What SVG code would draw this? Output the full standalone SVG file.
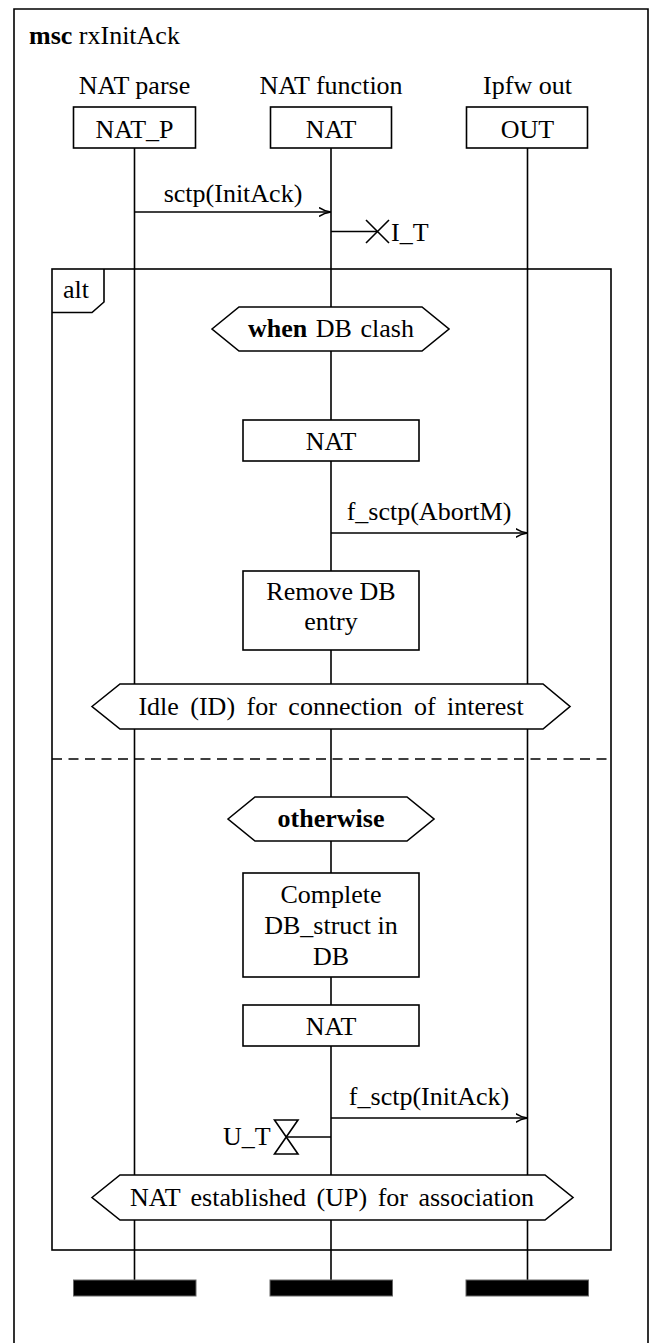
<svg xmlns="http://www.w3.org/2000/svg" width="650" height="1343" viewBox="0 0 650 1343">
  <style>
    text { font-family: "Liberation Serif", "Times New Roman", serif; font-size: 26px; fill: #000; }
    .c { text-anchor: middle; }
    .b { font-weight: bold; }
    .ln { fill: none; stroke: #000; stroke-width: 1.6; }
    .box { fill: #fff; stroke: #000; stroke-width: 1.6; }
    .bar { fill: #000; stroke: #666; stroke-width: 1; }
  </style>
  <defs>
    <marker id="arr" viewBox="0 0 12 10" refX="12" refY="5" markerWidth="12" markerHeight="10" markerUnits="userSpaceOnUse" orient="auto">
      <path d="M0,0.5 Q5,4 12,5 Q5,6 0,9.5" fill="none" stroke="#000" stroke-width="1.5"/>
    </marker>
  </defs>
  <rect width="650" height="1343" fill="#fff"/>

  <!-- frame -->
  <g id="frame">
    <path class="ln" d="M14,1345 V9 H648 V1345"/>
    <text x="29" y="44"><tspan class="b">msc</tspan> rxInitAck</text>
  </g>

  <!-- lifelines -->
  <g id="lifelines">
    <line class="ln" x1="134.5" y1="148" x2="134.5" y2="1281"/>
    <line class="ln" x1="331" y1="148" x2="331" y2="1281"/>
    <line class="ln" x1="527.5" y1="148" x2="527.5" y2="1281"/>
  </g>

  <!-- instance heads -->
  <g id="inst-natp">
    <text class="c" x="134.5" y="94">NAT parse</text>
    <rect class="box" x="73.5" y="107" width="122" height="41"/>
    <text class="c" x="134.5" y="138">NAT_P</text>
    <rect class="bar" x="73.5" y="1280" width="122.5" height="16"/>
  </g>
  <g id="inst-nat">
    <text class="c" x="331" y="94">NAT function</text>
    <rect class="box" x="270.5" y="107" width="121" height="41"/>
    <text class="c" x="331" y="138">NAT</text>
    <rect class="bar" x="270" y="1280" width="122.5" height="16"/>
  </g>
  <g id="inst-out">
    <text class="c" x="527.5" y="94">Ipfw out</text>
    <rect class="box" x="466.5" y="107" width="121" height="41"/>
    <text class="c" x="527.5" y="138">OUT</text>
    <rect class="bar" x="466" y="1280" width="122.5" height="16"/>
  </g>

  <!-- alt inline expression -->
  <g id="alt">
    <rect class="ln" x="52" y="269" width="559" height="981"/>
    <path class="ln" d="M52,312.5 H92 L104,302 V269"/>
    <text x="63" y="298">alt</text>
    <line class="ln" x1="52" y1="759" x2="611" y2="759" stroke-dasharray="10,6.5"/>
  </g>

  <!-- condition: when DB clash -->
  <g id="cond-clash">
    <polygon class="box" points="212,329 239,307 422,307 449,329 422,351 239,351"/>
    <text class="c" x="331" y="337" word-spacing="2"><tspan class="b">when</tspan> DB clash</text>
  </g>

  <g id="act-nat1">
    <rect class="box" x="243" y="420" width="176" height="41"/>
    <text class="c" x="331" y="450">NAT</text>
  </g>

  <g id="act-remove">
    <rect class="box" x="243" y="571" width="176" height="79"/>
    <text class="c" x="331" y="600">Remove DB</text>
    <text class="c" x="331" y="630">entry</text>
  </g>

  <g id="cond-idle">
    <polygon class="box" points="92,706.5 120,684 543,684 570,706.5 543,729 120,729"/>
    <text class="c" x="331" y="715" word-spacing="5">Idle (ID) for connection of interest</text>
  </g>

  <g id="cond-otherwise">
    <polygon class="box" points="228,819 255,797 407,797 434,819 407,841 255,841"/>
    <text class="c b" x="331" y="827">otherwise</text>
  </g>

  <g id="act-complete">
    <rect class="box" x="243" y="873" width="176" height="104"/>
    <text class="c" x="331" y="903">Complete</text>
    <text class="c" x="331" y="934">DB_struct in</text>
    <text class="c" x="331" y="965">DB</text>
  </g>

  <g id="act-nat2">
    <rect class="box" x="243" y="1005" width="176" height="41"/>
    <text class="c" x="331" y="1035">NAT</text>
  </g>

  <g id="cond-up">
    <polygon class="box" points="92,1197.5 120,1175 545,1175 573,1197.5 545,1220 120,1220"/>
    <text class="c" x="332" y="1206" word-spacing="4">NAT established (UP) for association</text>
  </g>

  <!-- timers -->
  <g id="timer-it">
    <line class="ln" x1="331" y1="231.5" x2="377" y2="231.5"/>
    <path class="ln" d="M366,220 L389,243 M366,243 L389,220"/>
    <text x="391" y="241">I_T</text>
  </g>
  <g id="timer-ut">
    <line class="ln" x1="286" y1="1137" x2="331" y2="1137"/>
    <path class="ln" d="M274.5,1120 H298 L274.5,1154 H298 Z"/>
    <text x="223" y="1145">U_T</text>
  </g>

  <!-- messages -->
  <g id="connectors">
    <line class="ln" x1="134.5" y1="212" x2="331" y2="212" marker-end="url(#arr)"/>
    <text class="c" x="233" y="202">sctp(InitAck)</text>
    <line class="ln" x1="331" y1="533" x2="527.5" y2="533" marker-end="url(#arr)"/>
    <text class="c" x="429" y="520">f_sctp(AbortM)</text>
    <line class="ln" x1="331" y1="1118" x2="527.5" y2="1118" marker-end="url(#arr)"/>
    <text class="c" x="429" y="1105">f_sctp(InitAck)</text>
  </g>
</svg>
